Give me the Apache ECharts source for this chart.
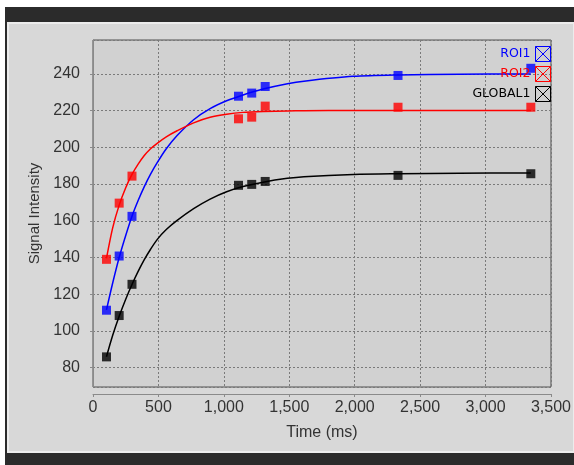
<!DOCTYPE html>
<html><head><meta charset="utf-8">
<script src="https://cdn.jsdelivr.net/npm/echarts@6/dist/echarts.min.js"></script>
<style>html,body{margin:0;padding:0;background:#fff}#c{width:574px;height:465px}</style>
</head><body><div id="c"></div>
<script>
// measured points
const timeMs   = [103, 200, 298, 1112, 1213, 1316, 2331, 3346];
const roi1     = [111.3, 140.8, 162.4, 227.8, 229.5, 233.1, 239.1, 243.0];
const roi2     = [139.0, 169.6, 184.3, 215.5, 216.4, 222.4, 221.8, 221.8];
const global1  = [85.9, 108.4, 125.4, 179.3, 179.8, 181.4, 184.7, 185.6];
// fitted curves
const fitTime    = [103, 150, 200, 250, 298, 345, 392, 440, 493, 560, 643, 769, 895, 1021, 1147, 1300, 1486, 1612, 1989, 2331, 2800, 3346];
const fitRoi1    = [111.5, 126, 140, 152, 162.5, 171, 178.6, 185.4, 191.9, 199.2, 206.4, 215.0, 221.0, 225.3, 228.5, 231.7, 234.6, 236.0, 238.6, 239.4, 239.8, 239.9];
const fitRoi2    = [139.5, 156, 168.5, 178, 185.2, 190.8, 195.5, 199.2, 202.3, 205.7, 209.0, 213.3, 216.3, 218.0, 219.0, 219.5, 219.8, 219.9, 220.0, 220.0, 220.0, 220.0];
const fitGlobal1 = [86, 97.5, 108, 117.3, 125.3, 132.4, 138.8, 144.5, 150.0, 155.2, 160.2, 166.6, 171.8, 175.8, 178.6, 181.0, 183.1, 184.0, 185.2, 185.6, 185.9, 186.0];
// series names / colours
const seriesNames  = ['ROI1', 'ROI2', 'GLOBAL1'];
const seriesColors = ['#0000ff', '#ff0000', '#000000'];
// ticks
const xTicks = [0, 500, 1000, 1500, 2000, 2500, 3000, 3500];
const yTicks = [80, 100, 120, 140, 160, 180, 200, 220, 240];
const xTitle = 'Time (ms)';
const yTitle = 'Signal Intensity';

const pointSets = [roi1, roi2, global1];
const fitSets = [fitRoi1, fitRoi2, fitGlobal1];
const crossIcon = 'path://M0,0L10,0L10,10L0,10Z M0,0L10,10 M10,0L0,10';

const chart = echarts.init(document.getElementById('c'), null, {renderer: 'canvas'});
const series = [];
seriesNames.forEach((n, k) => {
  series.push({
    type: 'line', name: n, silent: true, smooth: 0.3, showSymbol: false, z: 2,
    data: fitTime.map((t, i) => [t, fitSets[k][i]]),
    lineStyle: {color: seriesColors[k], width: 1.5},
    itemStyle: {color: seriesColors[k]}
  });
});
seriesNames.forEach((n, k) => {
  series.push({
    type: 'scatter', name: n, symbol: 'rect', symbolSize: 9, z: 3,
    data: timeMs.map((t, i) => [t, pointSets[k][i]]),
    itemStyle: {color: seriesColors[k]}
  });
});

chart.setOption({
  animation: false,
  backgroundColor: '#ffffff',
  graphic: [
    {type: 'rect', z: -10, shape: {x: 5, y: 7, width: 569, height: 458}, style: {fill: '#2b2b2b'}},
    {type: 'rect', z: -9, shape: {x: 8, y: 23, width: 566, height: 429}, style: {fill: '#d8d8d8', stroke: '#ececec', lineWidth: 2}}
  ],
  grid: {left: 93, top: 40, right: 17, bottom: 78, show: true, backgroundColor: '#d1d1d1', borderColor: '#505050', borderWidth: 1},
  legend: {
    orient: 'vertical', right: 23, top: 46, align: 'right', padding: 0,
    itemWidth: 15, itemHeight: 15, itemGap: 4,
    textStyle: {fontFamily: 'DejaVu Sans', fontSize: 12.5},
    data: seriesNames.map((n, k) => ({
      name: n, icon: crossIcon,
      itemStyle: {color: 'rgba(0,0,0,0)', borderColor: seriesColors[k], borderWidth: 1},
      textStyle: {color: seriesColors[k]}
    }))
  },
  xAxis: {
    type: 'value', min: xTicks[0], max: xTicks[xTicks.length - 1], interval: 500, offset: 7,
    name: xTitle, nameLocation: 'middle', nameGap: 31,
    nameTextStyle: {fontFamily: 'Liberation Sans', fontSize: 16, color: '#333'},
    axisLine: {show: true, lineStyle: {color: '#8a8a8a'}},
    axisTick: {show: true, length: 3, lineStyle: {color: '#8a8a8a'}},
    axisLabel: {fontFamily: 'Liberation Sans', fontSize: 16, color: '#333', margin: 6,
      formatter: v => xTicks.includes(v) ? v.toLocaleString('en-US') : ''},
    splitLine: {show: true, lineStyle: {color: '#7a7a7a', type: [2, 2], width: 1}}
  },
  yAxis: {
    type: 'value', min: 69.5, max: 258.4, minInterval: 20, maxInterval: 20, offset: 6,
    name: yTitle, nameLocation: 'middle', nameGap: 44,
    nameTextStyle: {fontFamily: 'Liberation Sans', fontSize: 15, color: '#333'},
    axisLine: {show: true, lineStyle: {color: '#8a8a8a'}},
    axisTick: {show: true, length: 3, lineStyle: {color: '#8a8a8a'}},
    axisLabel: {fontFamily: 'Liberation Sans', fontSize: 16, color: '#333', margin: 7,
      showMinLabel: false, showMaxLabel: false,
      formatter: v => yTicks.includes(Math.round(v * 1000) / 1000) ? String(v) : ''},
    splitLine: {show: true, lineStyle: {color: '#7a7a7a', type: [2, 2], width: 1}}
  },
  series: series
});
</script></body></html>
